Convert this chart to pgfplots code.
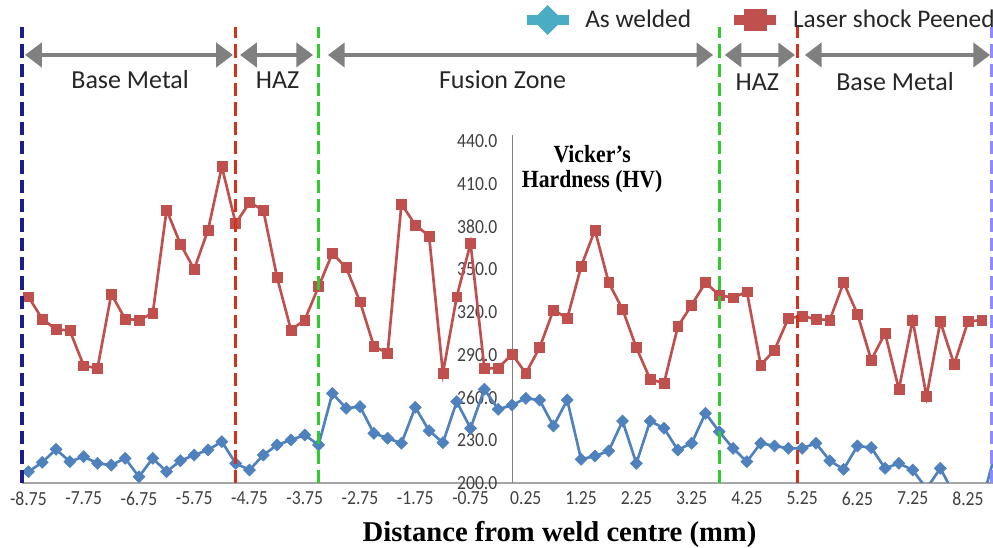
\documentclass[border=0pt]{standalone}
\usepackage{pgfplots}
\pgfplotsset{compat=1.18}
\usepackage{fontspec}
\setmainfont{Liberation Serif}
\newfontfamily\calfont{Carlito}
\newfontfamily\calcfont[FakeStretch=0.88]{Carlito}
\newfontfamily\tnrc[FakeStretch=0.88]{Liberation Serif}
\newcommand\tl[1]{\mbox{\calcfont\fontsize{15}{15}\selectfont\color{ticktext}#1}}
\usetikzlibrary{arrows.meta}
\definecolor{redser}{HTML}{C0504D}
\definecolor{blueser}{HTML}{4F81BD}
\definecolor{legblue}{HTML}{4BACC6}
\definecolor{navyd}{HTML}{1C1C8A}
\definecolor{redd}{HTML}{D4321A}
\definecolor{greend}{HTML}{2ECC2E}
\definecolor{lightbd}{HTML}{8C8CFF}
\definecolor{arrgray}{HTML}{808080}
\definecolor{axgray}{HTML}{A6A6A6}
\definecolor{ticktext}{HTML}{404040}

\pgfplotstableread{
x y
-8.75 207.9
-8.5 214.5
-8.25 223.6
-8.0 215.0
-7.75 218.5
-7.5 213.8
-7.25 212.6
-7.0 217.3
-6.75 204.4
-6.5 217.3
-6.25 207.9
-6.0 215.6
-5.75 219.6
-5.5 223.2
-5.25 229.0
-5.0 213.8
-4.75 209.1
-4.5 219.6
-4.25 226.7
-4.0 230.2
-3.75 233.7
-3.5 226.7
-3.25 262.9
-3.0 252.4
-2.75 253.6
-2.5 234.9
-2.25 231.4
-2.0 227.9
-1.75 253.1
-1.5 236.7
-1.25 228.3
-1.0 257.1
-0.75 238.4
-0.5 265.8
-0.25 251.7
0.0 254.7
0.25 259.4
0.5 258.2
0.75 240.0
1.0 258.2
1.25 216.6
1.5 218.9
1.75 222.5
2.0 243.5
2.25 213.8
2.5 243.5
2.75 238.4
3.0 223.2
3.25 227.9
3.5 248.9
3.75 236.0
4.0 224.3
4.25 215.0
4.5 227.9
4.75 226.0
5.0 224.3
5.25 224.3
5.5 227.9
5.75 215.6
6.0 209.6
6.25 226.0
6.5 224.8
6.75 210.3
7.0 213.8
7.25 209.1
7.5 196.0
7.75 210.3
8.0 192.0
8.25 190.0
8.5 186.0
8.75 222.0
}\aswelded

\pgfplotstableread{
x y
-8.75 330.7
-8.5 315.1
-8.25 307.8
-8.0 306.9
-7.75 282.3
-7.5 280.5
-7.25 332.6
-7.0 315.1
-6.75 314.4
-6.5 319.1
-6.25 391.6
-6.0 367.7
-5.75 350.0
-5.5 377.5
-5.25 422.0
-5.0 382.2
-4.75 396.7
-4.5 391.6
-4.25 344.1
-4.0 307.4
-3.75 314.4
-3.5 337.8
-3.25 361.2
-3.0 351.1
-2.75 327.2
-2.5 296.1
-2.25 291.0
-2.0 395.8
-1.75 381.1
-1.5 373.3
-1.25 277.0
-1.0 330.7
-0.75 368.2
-0.5 280.5
-0.25 280.5
0.0 290.5
0.25 277.0
0.5 295.0
0.75 321.4
1.0 315.6
1.25 351.8
1.5 377.5
1.75 340.6
2.0 321.9
2.25 295.0
2.5 272.8
2.75 270.0
3.0 309.7
3.25 324.9
3.5 340.6
3.75 331.9
4.0 330.0
4.25 334.2
4.5 282.8
4.75 293.3
5.0 315.6
5.25 317.2
5.5 314.9
5.75 314.4
6.0 340.6
6.25 318.6
6.5 286.3
6.75 305.1
7.0 265.7
7.25 314.4
7.5 260.6
7.75 313.2
8.0 283.3
8.25 313.2
8.5 314.4
}\peened

\begin{document}
\begin{tikzpicture}
\begin{axis}[
  at={(0pt,0pt)}, anchor=south west,
  scale only axis, width=728.5pt, height=261pt,
  xmin=-8.875, xmax=8.70, ymin=200, ymax=444.2,
  enlargelimits=false,
  clip=true, clip mode=individual,
  axis x line=bottom, axis y line=middle,
  axis line style={-},
  x axis line style={draw=axgray, line width=0.9pt},
  y axis line style={draw=gray, line width=0.6pt},
  hide obscured x ticks=false, hide obscured y ticks=false,
  major tick length=0pt,
  xtick={-8.75,-7.75,-6.75,-5.75,-4.75,-3.75,-2.75,-1.75,-0.75,0.25,1.25,2.25,3.25,4.25,5.25,6.25,7.25,8.25},
  xticklabels={\tl{-8.75},\tl{-7.75},\tl{-6.75},\tl{-5.75},\tl{-4.75},\tl{-3.75},\tl{-2.75},\tl{-1.75},\tl{-0.75},\tl{0.25},\tl{1.25},\tl{2.25},\tl{3.25},\tl{4.25},\tl{5.25},\tl{6.25},\tl{7.25},\tl{8.25}},
  ytick={200,230,260,290,320,350,380,410,440},
  yticklabels={\tl{200.0},\tl{230.0},\tl{260.0},\tl{290.0},\tl{320.0},\tl{350.0},\tl{380.0},\tl{410.0},\tl{440.0}},
  tick label style={font=\calcfont\fontsize{15}{15}\selectfont, text=ticktext},
  xticklabel style={anchor=north, inner sep=0pt, outer sep=0pt, yshift=-6.5pt},
  yticklabel style={anchor=east, inner sep=0pt, outer sep=0pt, xshift=-11pt},
  legend columns=2,
  legend style={at={(axis cs:0.18,524.9)}, anchor=west, draw=none, fill=none,
    inner sep=0pt, outer sep=0pt,
    font=\calfont\fontsize{19}{19}\selectfont, text=black!85,
    nodes={inner sep=0pt},
    /tikz/every odd column/.append style={column sep=9pt},
    /tikz/every even column/.append style={column sep=29pt}},
]
\addplot[color=blueser, line width=2pt, mark=square*, mark size=3.2pt,
  mark options={rotate=45, fill=blueser, draw=blueser, line width=0.4pt},
  legend image code/.code={
    \draw[legblue, line width=7pt] (0pt,0pt) -- (31.5pt,0pt);
    \draw[legblue] plot[only marks, mark=square*, mark size=7pt, mark options={rotate=45, fill=legblue, draw=legblue}] coordinates {(15.75pt,0pt)};
  }] table[x=x, y=y] {\aswelded};
\addlegendentry{As welded}
\addplot[color=redser, line width=2pt, mark=square*, mark size=3.7pt,
  mark options={fill=redser, draw=redser, line width=0.4pt},
  legend image code/.code={
    \draw[redser, line width=7pt] (0pt,0pt) -- (31.5pt,0pt);
    \draw[redser] plot[only marks, mark=square*, mark size=7.5pt, mark options={fill=redser, draw=redser}] coordinates {(15.75pt,0pt)};
  }] table[x=x, y=y] {\peened};
\addlegendentry{Laser shock Peened}

% zone boundaries
\draw[navyd, line width=2.4pt, dash pattern=on 10pt off 4.5pt] (axis cs:-8.866,200) -- (axis cs:-8.866,520);
\draw[redd, line width=2.4pt, dash pattern=on 10pt off 4.5pt] (axis cs:-5.01,200) -- (axis cs:-5.01,520);
\draw[greend, line width=2.4pt, dash pattern=on 10pt off 4.5pt] (axis cs:-3.50,200) -- (axis cs:-3.50,520);
\draw[greend, line width=2.4pt, dash pattern=on 10pt off 4.5pt] (axis cs:3.76,200) -- (axis cs:3.76,520);
\draw[redd, line width=2.4pt, dash pattern=on 10pt off 4.5pt] (axis cs:5.17,200) -- (axis cs:5.17,520);
\draw[lightbd, line width=2.4pt, dash pattern=on 10pt off 4.5pt] (axis cs:8.68,200) -- (axis cs:8.68,520);

% zone arrows
\tikzset{zarr/.style={arrgray, line width=3pt, {Triangle[length=12.5pt,width=18pt]}-{Triangle[length=12.5pt,width=18pt]}}}
\draw[zarr] (axis cs:-8.81,500.35) -- (axis cs:-5.05,500.35);
\draw[zarr] (axis cs:-4.92,500.35) -- (axis cs:-3.60,500.35);
\draw[zarr] (axis cs:-3.33,500.35) -- (axis cs:3.64,500.35);
\draw[zarr] (axis cs:3.85,500.35) -- (axis cs:5.12,500.35);
\draw[zarr] (axis cs:5.30,500.35) -- (axis cs:8.65,500.35);

\tikzset{zlab/.style={font=\calfont\fontsize{19.5}{20}\selectfont, text=black!85, inner sep=0pt}}
\node[zlab] at (axis cs:-6.91,482.8) {Base Metal};
\node[zlab] at (axis cs:-4.24,482.8) {HAZ};
\node[zlab] at (axis cs:-0.17,482.8) {Fusion Zone};
\node[zlab] at (axis cs:4.44,481.4) {HAZ};
\node[zlab] at (axis cs:6.93,481.4) {Base Metal};

\node[align=center, inner sep=0pt, font=\tnrc\bfseries\fontsize{18.5}{18.75}\selectfont] at (axis cs:1.45,420) {Vicker’s\\Hardness (HV)};
\node[inner sep=0pt, font=\bfseries\fontsize{21.5}{22}\selectfont] at (axis cs:0.86,164) {Distance from weld centre (mm)};
\end{axis}
\pgfresetboundingbox
\useasboundingbox (-16.125pt,-48.75pt) rectangle (728.625pt,362.25pt);
\end{tikzpicture}
\end{document}
